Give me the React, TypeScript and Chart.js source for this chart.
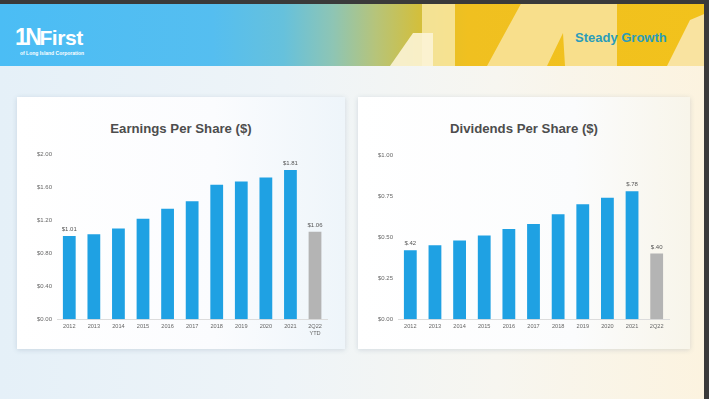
import React, { useEffect, useRef } from "react";
import { Chart, registerables } from "chart.js";

Chart.register(...registerables);

const years = ["2012", "2013", "2014", "2015", "2016", "2017", "2018", "2019", "2020", "2021"];
const epsCategories: (string | string[])[] = [...years, ["2Q22", "YTD"]];
const epsValues = [1.01, 1.03, 1.1, 1.22, 1.34, 1.43, 1.63, 1.67, 1.72, 1.81, 1.06];
const epsValueLabels = ["$1.01", "", "", "", "", "", "", "", "", "$1.81", "$1.06"];
const epsTickMax = 2.0;
const epsTickStep = 0.4;

const dpsCategories: (string | string[])[] = [...years, "2Q22"];
const dpsValues = [0.42, 0.45, 0.48, 0.51, 0.55, 0.58, 0.64, 0.7, 0.74, 0.78, 0.4];
const dpsValueLabels = ["$.42", "", "", "", "", "", "", "", "", "$.78", "$.40"];
const dpsTickMax = 1.0;
const dpsTickStep = 0.25;

const BLUE = "#1fa1e3";
const GRAY = "#b4b4b4";
const FONT = "'Liberation Sans', Arial, sans-serif";

const valueLabelPlugin = {
  id: "valueLabels",
  afterDatasetsDraw(chart: any) {
    const labels: string[] = chart.options.plugins.valueLabels?.labels || [];
    const meta = chart.getDatasetMeta(0);
    const ctx = chart.ctx;
    ctx.save();
    ctx.font = `6px ${FONT}`;
    ctx.fillStyle = "#555";
    ctx.textAlign = "center";
    ctx.textBaseline = "bottom";
    meta.data.forEach((bar: any, i: number) => {
      const t = labels[i];
      if (t) ctx.fillText(t, bar.x, bar.y - 3.5);
    });
    ctx.restore();
  },
};

function BarChart(props: {
  categories: (string | string[])[];
  values: number[];
  valueLabels: string[];
  max: number;
  step: number;
  width: number;
  height: number;
  padRight: number;
  padTop: number;
}) {
  const ref = useRef<HTMLCanvasElement>(null);
  useEffect(() => {
    if (!ref.current) return;
    const colors = props.values.map((_, i) => (i === props.values.length - 1 ? GRAY : BLUE));
    const chart = new Chart(ref.current, {
      type: "bar",
      data: {
        labels: props.categories as any,
        datasets: [
          {
            data: props.values,
            backgroundColor: colors,
            borderWidth: 0,
            barPercentage: 0.52,
            categoryPercentage: 1,
          },
        ],
      },
      options: {
        animation: false,
        responsive: false,
        devicePixelRatio: 1,
        layout: { padding: { left: 0, right: props.padRight, top: props.padTop, bottom: 6.7 } },
        plugins: {
          legend: { display: false },
          tooltip: { enabled: false },
          valueLabels: { labels: props.valueLabels },
        } as any,
        scales: {
          x: {
            grid: { display: false, drawTicks: false },
            border: { display: true, color: "#dcdcdc", width: 1 },
            ticks: {
              color: "#666",
              font: { size: 5.6, family: FONT },
              padding: 4,
              maxRotation: 0,
              autoSkip: false,
            },
            afterFit: (s: any) => {
              s.height = 24;
            },
          },
          y: {
            min: 0,
            max: props.max,
            grid: { display: false, drawTicks: false },
            border: { display: false },
            ticks: {
              stepSize: props.step,
              color: "#666",
              font: { size: 6, family: FONT },
              padding: 5,
              callback: (v: any) => "$" + Number(v).toFixed(2),
            },
            afterFit: (s: any) => {
              s.width = 40;
            },
          },
        },
      },
      plugins: [valueLabelPlugin as any],
    });
    return () => chart.destroy();
  }, []);
  return <canvas ref={ref} width={props.width} height={props.height} style={{ display: "block" }} />;
}

function Shape(props: { points: string; color: string }) {
  return (
    <div
      style={{
        position: "absolute",
        left: 0,
        top: 0,
        width: 709,
        height: 66,
        background: props.color,
        clipPath: `polygon(${props.points})`,
      }}
    />
  );
}

export default function App() {
  const card: React.CSSProperties = {
    position: "absolute",
    top: 97,
    height: 252,
    boxShadow: "0 1px 5px rgba(60,90,120,0.18)",
  };
  const title: React.CSSProperties = {
    position: "absolute",
    top: 121,
    textAlign: "center",
    fontFamily: FONT,
    fontWeight: "bold",
    fontSize: 13.2,
    color: "#4d4d4d",
    whiteSpace: "nowrap",
  };
  return (
    <div
      style={{
        position: "fixed",
        left: 0,
        top: 0,
        width: 709,
        height: 399,
        overflow: "hidden",
        background: "linear-gradient(90deg, #e5f0f8 0%, #eef4f8 40%, #f7f6f0 70%, #fcf3df 100%)",
        fontFamily: FONT,
      }}
    >
      {/* header */}
      <div
        style={{
          position: "absolute",
          left: 0,
          top: 0,
          width: 709,
          height: 66,
          overflow: "hidden",
          background:
            "linear-gradient(90deg, #4bbdf5 0%, #55bef0 30%, #66c1dc 40%, #8ec5b4 47%, #b6c47a 53%, #d2bf3e 59%, #e8c026 63%, #f0c020 66%, #f2c21c 100%)",
        }}
      >
        <Shape points="422px 0, 455px 0, 455px 66px, 422px 66px" color="rgba(248,232,165,0.85)" />
        <Shape points="390px 66px, 413px 33px, 433px 33px, 433px 66px" color="rgba(252,244,214,0.9)" />
        <Shape points="523px 0, 617px 0, 617px 66px, 565px 66px, 563px 33px, 547px 66px, 487px 66px" color="#f8df8c" />
        <Shape points="667px 66px, 690px 20px, 709px 12px, 709px 66px" color="#f9e3a0" />
        <div style={{ position: "absolute", left: 15, top: 25, color: "#fff", fontWeight: "bold", fontSize: 21, letterSpacing: -0.4, lineHeight: "24px", whiteSpace: "nowrap" }}>
          <span style={{ fontSize: 23, letterSpacing: -2.5 }}>1N</span>First
        </div>
        <div style={{ position: "absolute", left: 20, top: 50, color: "#fff", fontWeight: "bold", fontSize: 5, whiteSpace: "nowrap" }}>
          of Long Island Corporation
        </div>
        <div style={{ position: "absolute", left: 575, top: 30, color: "#2a9cba", fontWeight: "bold", fontSize: 13, whiteSpace: "nowrap" }}>
          Steady Growth
        </div>
      </div>
      {/* dark frame */}
      <div style={{ position: "absolute", left: 0, top: 0, width: 709, height: 4, background: "#3a3a3a" }} />
      <div style={{ position: "absolute", left: 704, top: 0, width: 5, height: 399, background: "#3a3a3a" }} />

      {/* left card */}
      <div style={{ ...card, left: 17, width: 328, background: "linear-gradient(90deg, #ffffff 0%, #fbfcfe 60%, #eef5fa 100%)" }} />
      <div style={{ ...title, left: 17, width: 328 }}>Earnings Per Share ($)</div>
      <div style={{ position: "absolute", left: 17, top: 140 }}>
        <BarChart
          categories={epsCategories}
          values={epsValues}
          valueLabels={epsValueLabels}
          max={epsTickMax}
          step={epsTickStep}
          width={328}
          height={210}
          padRight={17.7}
          padTop={14.3}
        />
      </div>

      {/* right card */}
      <div style={{ ...card, left: 358, width: 332, background: "linear-gradient(90deg, #ffffff 0%, #fbfcfd 65%, #f8f5ea 100%)" }} />
      <div style={{ ...title, left: 358, width: 332 }}>Dividends Per Share ($)</div>
      <div style={{ position: "absolute", left: 358, top: 140 }}>
        <BarChart
          categories={dpsCategories}
          values={dpsValues}
          valueLabels={dpsValueLabels}
          max={dpsTickMax}
          step={dpsTickStep}
          width={332}
          height={210}
          padRight={21}
          padTop={15}
        />
      </div>
    </div>
  );
}
